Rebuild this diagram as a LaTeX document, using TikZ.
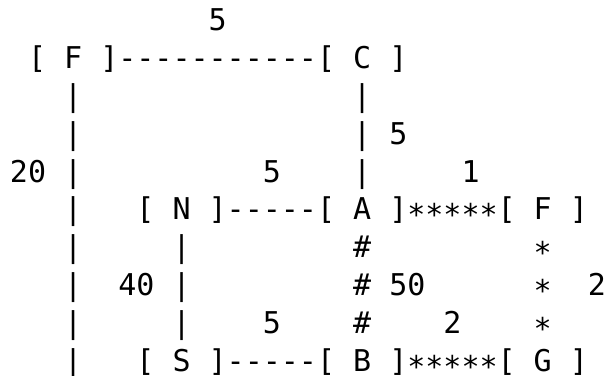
\documentclass[tikz,border=0pt]{standalone}
\usepackage{fontspec}
\usepackage{tikz}
\newfontfamily\asciifont{DejaVu Sans Mono}
\tikzset{
  ch/.style={anchor=base west, inner sep=0pt, outer sep=0pt,
             font=\asciifont\fontsize{15pt}{18pt}\selectfont, text=black},
  box/.style={ch},
  wgt/.style={ch},
}
% a run of one character along a row or down a column
\newcommand{\hrun}[5]{%
  \foreach \k in {#3,...,#4} \node[ch] (#1\k) at (\k,#2) {#5};}
\newcommand{\vrun}[5]{%
  \foreach \k in {#3,...,#4} \node[ch] (#1\k) at (#2,\k) {#5};}

\begin{document}
\begin{tikzpicture}[x=9.03pt, y=-18.95pt]
    \useasboundingbox (-5pt,15.2pt) rectangle (297.5pt,-172.3pt);
    % stops
    \node[box] (F1) at (1,1) {[ F ]};
    \node[box] (C)  at (17,1) {[ C ]};
    \node[box] (N)  at (7,5) {[ N ]};
    \node[box] (A)  at (17,5) {[ A ]};
    \node[box] (F2) at (27,5) {[ F ]};
    \node[box] (S)  at (7,9) {[ S ]};
    \node[box] (B)  at (17,9) {[ B ]};
    \node[box] (G)  at (27,9) {[ G ]};
    % lines between them
    \hrun{fc}{1}{6}{16}{-}
    \hrun{na}{5}{12}{16}{-}
    \hrun{sb}{9}{12}{16}{-}
    \hrun{af}{5}{22}{26}{∗}
    \hrun{bg}{9}{22}{26}{∗}
    \vrun{fs}{3}{2}{9}{|}
    \vrun{ca}{19}{2}{4}{|}
    \vrun{ns}{9}{6}{8}{|}
    \vrun{ab}{19}{6}{8}{\#}
    \vrun{fg}{29}{6}{8}{∗}
    % weights
    \node[wgt] (wfc) at (11,0) {5};
    \node[wgt] (wca) at (21,3) {5};
    \node[wgt] (wfs) at (0,4) {20};
    \node[wgt] (wna) at (14,4) {5};
    \node[wgt] (waf) at (25,4) {1};
    \node[wgt] (wns) at (6,7) {40};
    \node[wgt] (wab) at (21,7) {50};
    \node[wgt] (wfg) at (32,7) {2};
    \node[wgt] (wsb) at (14,8) {5};
    \node[wgt] (wbg) at (24,8) {2};
  \end{tikzpicture}
\end{document}
